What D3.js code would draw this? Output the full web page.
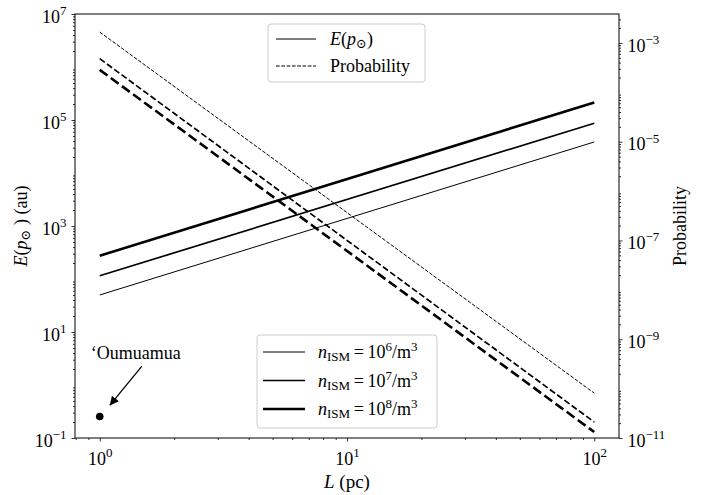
<!DOCTYPE html>
<html lang="en">
  <head>
    <meta charset="UTF-8" />
    <title>E(p) and probability vs L</title>
    <style>
      body { margin: 0; background: #fff; }
      svg text, svg tspan { font-family: "Liberation Serif", "Times New Roman", "DejaVu Serif", serif; fill: #000; }
    </style>
  </head>
  <body>
    <div id="chart"></div>
    <script src="https://cdn.jsdelivr.net/npm/d3@7"></script>
    <script>

      // data (straight lines in log-log, so two ends each)
      var distances = [1, 100];
      var densityExp = [6, 7, 8];
      var eValues = [
        [50, 38500],
        [115, 87000],
        [275, 214000]
      ];
      var probValues = [
        [1.66e-3, 8.1e-11],
        [4.8e-4, 2.1e-11],
        [2.85e-4, 1.32e-11]
      ];
      var oumuamuaL = [1];
      var oumuamuaE = [0.255];

      var xTicks = [1, 10, 100];
      var leftTicks = [1e-1, 1e1, 1e3, 1e5, 1e7];
      var rightTicks = [1e-11, 1e-9, 1e-7, 1e-5, 1e-3];

      var widths = [1, 1.7, 2.6];

      var margin = {top: 14, right: 99, bottom: 57, left: 75};
      var W = 718, H = 495;
      var w = W - margin.left - margin.right,
          h = H - margin.top - margin.bottom;

      var svg = d3.select("#chart").append("svg")
        .attr("width", W)
        .attr("height", H)
        .attr("font-family", "Liberation Serif, serif");

      var g = svg.append("g")
        .attr("transform", "translate(" + margin.left + "," + margin.top + ")");

//scales
      var xScale = d3.scaleLog()
        .domain([Math.pow(10, -0.1), Math.pow(10, 2.1)])
        .range([0, w]);
      var yLeft = d3.scaleLog()
        .domain([1e-1, 1e7])
        .range([h, 0]);
      var yRight = d3.scaleLog()
        .domain([1e-11, Math.pow(10, -2.414)])
        .range([h, 0]);

      function minorTicks(lo, hi) {
        var out = [];
        for (var e = lo; e <= hi; e++) {
          for (var k = 2; k <= 9; k++) out.push(k * Math.pow(10, e));
        }
        return out;
      }

      function supLabel(sel) {
        sel.each(function(d) {
          var t = d3.select(this);
          var e = Math.round(Math.log10(d));
          t.text("");
          t.append("tspan").text("10");
          t.append("tspan")
            .attr("dy", "-0.6em")
            .attr("font-size", "0.72em")
            .text(e < 0 ? "\u2212" + (-e) : e);
        });
      }

//axes
      var xMinor = minorTicks(-1, 2).filter(function(v) {
        return v >= xScale.domain()[0] && v <= xScale.domain()[1];
      });
      g.append("g")
        .attr("transform", "translate(0," + h + ")")
        .call(d3.axisBottom(xScale).tickValues(xMinor).tickSize(2).tickSizeOuter(0).tickFormat(""));
      var xAx = g.append("g")
        .attr("transform", "translate(0," + h + ")")
        .call(d3.axisBottom(xScale).tickValues(xTicks).tickSize(3.5).tickSizeOuter(0).tickPadding(5));
      xAx.selectAll(".tick text").attr("font-size", 18).attr("dy", "1em").call(supLabel);

      var leftMinor = minorTicks(-1, 6);
      g.append("g")
        .call(d3.axisLeft(yLeft).tickValues(leftMinor).tickSize(2).tickSizeOuter(0).tickFormat(""));
      var yAx = g.append("g")
        .call(d3.axisLeft(yLeft).tickValues(leftTicks).tickSize(3.5).tickSizeOuter(0).tickPadding(5));
      yAx.selectAll(".tick text").attr("font-size", 18).attr("dy", "0.45em").call(supLabel);

      var rightMinor = minorTicks(-11, -3).filter(function(v) {
        return v <= yRight.domain()[1];
      });
      g.append("g")
        .attr("transform", "translate(" + w + ",0)")
        .call(d3.axisRight(yRight).tickValues(rightMinor).tickSize(2).tickSizeOuter(0).tickFormat(""));
      var yAxR = g.append("g")
        .attr("transform", "translate(" + w + ",0)")
        .call(d3.axisRight(yRight).tickValues(rightTicks).tickSize(3.5).tickSizeOuter(0).tickPadding(5));
      yAxR.selectAll(".tick text").attr("font-size", 18).attr("dy", "0.45em").call(supLabel);

      g.selectAll(".domain").remove();
      g.selectAll("g").attr("font-family", null);
      g.selectAll(".tick line").attr("stroke", "#000").attr("stroke-width", 0.8);

//lines
      g.append("clipPath").attr("id", "clip")
        .append("rect").attr("width", w).attr("height", h);
      var plot = g.append("g").attr("clip-path", "url(#clip)");

      var lineLeft = d3.line()
        .x(function(d) { return xScale(d[0]); })
        .y(function(d) { return yLeft(d[1]); });
      var lineRight = d3.line()
        .x(function(d) { return xScale(d[0]); })
        .y(function(d) { return yRight(d[1]); });

      eValues.forEach(function(vals, i) {
        plot.append("path")
          .datum(distances.map(function(x, j) { return [x, vals[j]]; }))
          .attr("fill", "none")
          .attr("stroke", "#000")
          .attr("stroke-width", widths[i])
          .attr("d", lineLeft);
      });
      probValues.forEach(function(vals, i) {
        plot.append("path")
          .datum(distances.map(function(x, j) { return [x, vals[j]]; }))
          .attr("fill", "none")
          .attr("stroke", "#000")
          .attr("stroke-width", widths[i])
          .attr("stroke-dasharray", (3.7 * widths[i]) + "," + (1.6 * widths[i]))
          .attr("d", lineRight);
      });

//oumuamua point and arrow
      plot.selectAll(".ou")
        .data(oumuamuaL)
        .enter()
        .append("circle")
        .attr("class", "ou")
        .attr("cx", function(d) { return xScale(d); })
        .attr("cy", function(d, i) { return yLeft(oumuamuaE[i]); })
        .attr("r", 3.8)
        .attr("fill", "#000");

      var px = xScale(oumuamuaL[0]), py = yLeft(oumuamuaE[0]);
      svg.append("defs").append("marker")
        .attr("id", "arrow")
        .attr("viewBox", "0 0 10 10")
        .attr("refX", 10).attr("refY", 5)
        .attr("markerWidth", 9).attr("markerHeight", 9)
        .attr("markerUnits", "userSpaceOnUse")
        .attr("orient", "auto")
        .append("path").attr("d", "M0,0 L10,5 L0,10 z").attr("fill", "#000");
      g.append("line")
        .attr("x1", px + 42).attr("y1", py - 50)
        .attr("x2", px + 10).attr("y2", py - 11)
        .attr("stroke", "#000")
        .attr("stroke-width", 1.3)
        .attr("marker-end", "url(#arrow)");
      g.append("text")
        .attr("x", px + 36)
        .attr("y", py - 57)
        .attr("text-anchor", "middle")
        .attr("font-size", 18)
        .text("\u02BBOumuamua");

//frame
      g.append("rect")
        .attr("width", w).attr("height", h)
        .attr("fill", "none")
        .attr("stroke", "#000")
        .attr("stroke-width", 1);

//axis labels
      svg.append("text")
        .attr("x", margin.left + w / 2)
        .attr("y", 488)
        .attr("text-anchor", "middle")
        .attr("font-size", 19)
        .html('<tspan font-style="italic">L</tspan> (pc)');
      svg.append("text")
        .attr("transform", "translate(27," + (margin.top + h / 2) + ")rotate(-90)")
        .attr("text-anchor", "middle")
        .attr("font-size", 18)
        .html('<tspan font-style="italic">E</tspan>(<tspan font-style="italic">p</tspan><tspan font-size="13" dy="3">\u2299</tspan><tspan dy="-3"> ) (au)</tspan>');
      svg.append("text")
        .attr("transform", "translate(686," + (margin.top + h / 2) + ")rotate(-90)")
        .attr("text-anchor", "middle")
        .attr("font-size", 18)
        .text("Probability");

//top legend
      var leg1 = svg.append("g").attr("transform", "translate(268,24)");
      leg1.append("rect")
        .attr("width", 157).attr("height", 58)
        .attr("rx", 3)
        .attr("fill", "#fff").attr("fill-opacity", 0.8)
        .attr("stroke", "#ccc");
      leg1.append("line")
        .attr("x1", 8).attr("x2", 48).attr("y1", 15).attr("y2", 15)
        .attr("stroke", "#000").attr("stroke-width", 1);
      leg1.append("line")
        .attr("x1", 8).attr("x2", 48).attr("y1", 42).attr("y2", 42)
        .attr("stroke", "#000").attr("stroke-width", 1)
        .attr("stroke-dasharray", "3.7,1.6");
      leg1.append("text")
        .attr("x", 62).attr("y", 21)
        .attr("font-size", 18)
        .html('<tspan font-style="italic">E</tspan>(<tspan font-style="italic">p</tspan><tspan font-size="13" dy="3">\u2299</tspan><tspan dy="-3">)</tspan>');
      leg1.append("text")
        .attr("x", 62).attr("y", 48)
        .attr("font-size", 18)
        .text("Probability");

//bottom legend
      var leg2 = svg.append("g").attr("transform", "translate(257,335)");
      leg2.append("rect")
        .attr("width", 180).attr("height", 93)
        .attr("rx", 3)
        .attr("fill", "#fff").attr("fill-opacity", 0.8)
        .attr("stroke", "#ccc");
      densityExp.forEach(function(e, i) {
        var yy = 17 + i * 28.5;
        leg2.append("line")
          .attr("x1", 6).attr("x2", 48).attr("y1", yy).attr("y2", yy)
          .attr("stroke", "#000").attr("stroke-width", widths[i]);
        leg2.append("text")
          .attr("x", 61).attr("y", yy + 6)
          .attr("font-size", 18)
          .html('<tspan font-style="italic">n</tspan><tspan font-size="13" dy="3">ISM</tspan><tspan dy="-3">\u2009=\u200910</tspan><tspan font-size="13" dy="-7">' + e + '</tspan><tspan dy="7">/m</tspan><tspan font-size="13" dy="-7">3</tspan>');
      });

    </script>
  </body>
</html>
